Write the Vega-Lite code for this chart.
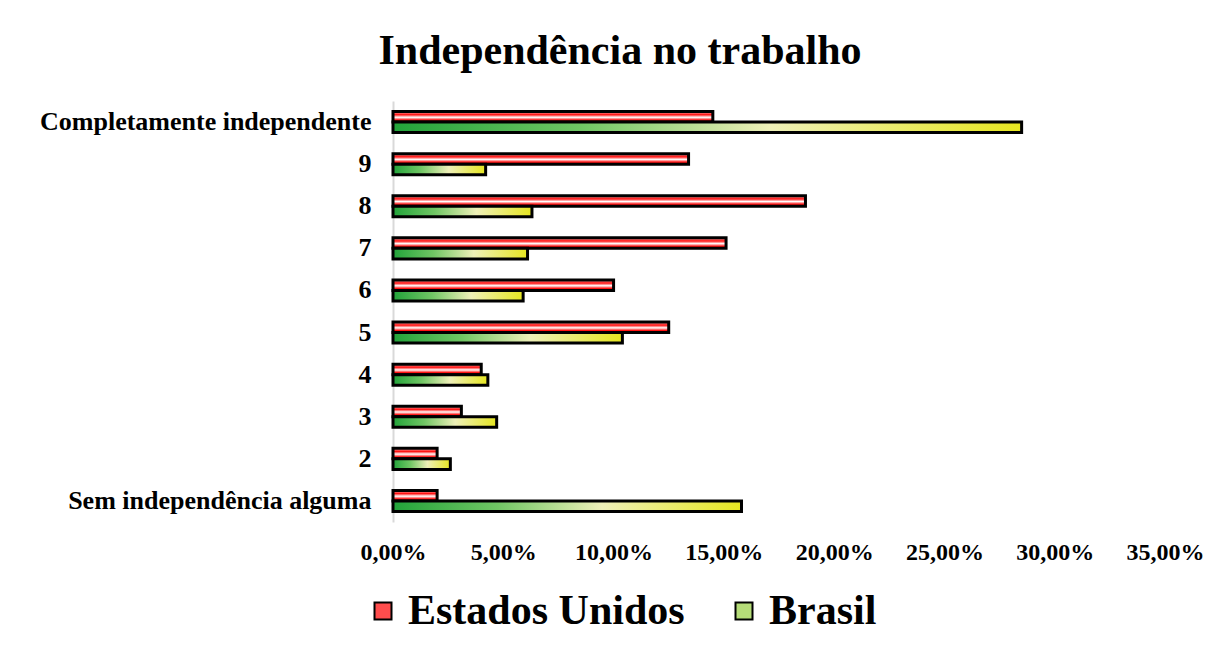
{
  "$schema": "https://vega.github.io/schema/vega-lite/v6.json",
  "autosize": {"type": "none"},
  "width": 772,
  "height": 421,
  "padding": {"left": 393, "top": 101, "right": 67, "bottom": 129},
  "background": "white",
  "title": {
    "text": "Independência no trabalho",
    "font": "Liberation Serif",
    "fontSize": 42,
    "fontWeight": "bold",
    "color": "black",
    "anchor": "middle",
    "frame": "group",
    "dx": -159,
    "baseline": "alphabetic",
    "offset": -5
  },
  "data": {
    "values": [
      {"categoria": "Completamente independente", "pais": "Estados Unidos", "valor": 0.145},
      {"categoria": "Completamente independente", "pais": "Brasil", "valor": 0.285},
      {"categoria": "9", "pais": "Estados Unidos", "valor": 0.134},
      {"categoria": "9", "pais": "Brasil", "valor": 0.042},
      {"categoria": "8", "pais": "Estados Unidos", "valor": 0.187},
      {"categoria": "8", "pais": "Brasil", "valor": 0.063},
      {"categoria": "7", "pais": "Estados Unidos", "valor": 0.151},
      {"categoria": "7", "pais": "Brasil", "valor": 0.061},
      {"categoria": "6", "pais": "Estados Unidos", "valor": 0.100},
      {"categoria": "6", "pais": "Brasil", "valor": 0.059},
      {"categoria": "5", "pais": "Estados Unidos", "valor": 0.125},
      {"categoria": "5", "pais": "Brasil", "valor": 0.104},
      {"categoria": "4", "pais": "Estados Unidos", "valor": 0.040},
      {"categoria": "4", "pais": "Brasil", "valor": 0.043},
      {"categoria": "3", "pais": "Estados Unidos", "valor": 0.031},
      {"categoria": "3", "pais": "Brasil", "valor": 0.047},
      {"categoria": "2", "pais": "Estados Unidos", "valor": 0.020},
      {"categoria": "2", "pais": "Brasil", "valor": 0.026},
      {"categoria": "Sem independência alguma", "pais": "Estados Unidos", "valor": 0.020},
      {"categoria": "Sem independência alguma", "pais": "Brasil", "valor": 0.158}
    ]
  },
  "encoding": {
    "y": {
      "field": "categoria",
      "type": "nominal",
      "sort": ["Completamente independente", "9", "8", "7", "6", "5", "4", "3", "2", "Sem independência alguma"],
      "scale": {"paddingInner": 0.5, "paddingOuter": 0.25},
      "axis": {
        "title": null,
        "ticks": false,
        "domain": true,
        "domainColor": "#d9d9d9",
        "domainWidth": 2,
        "labelFont": "Liberation Serif",
        "labelFontSize": 26,
        "labelFontWeight": "bold",
        "labelColor": "black",
        "labelPadding": 22,
        "labelLimit": 400
      }
    },
    "yOffset": {
      "field": "pais",
      "type": "nominal",
      "sort": ["Estados Unidos", "Brasil"],
      "scale": {"paddingInner": 0, "paddingOuter": 0}
    },
    "x": {
      "field": "valor",
      "type": "quantitative",
      "scale": {"domain": [0, 0.35], "nice": false},
      "axis": {
        "title": null,
        "grid": false,
        "ticks": false,
        "domain": false,
        "values": [0, 0.05, 0.1, 0.15, 0.2, 0.25, 0.3, 0.35],
        "labelExpr": "replace(format(datum.value, '.2%'), '.', ',')",
        "labelFont": "Liberation Serif",
        "labelFontSize": 24,
        "labelFontWeight": "bold",
        "labelColor": "black",
        "labelPadding": 18,
        "labelFlush": false
      }
    }
  },
  "layer": [
    {
      "mark": {"type": "bar", "opacity": 0, "stroke": "black", "strokeWidth": 2},
      "encoding": {
        "color": {
          "field": "pais",
          "type": "nominal",
          "scale": {
            "domain": ["Estados Unidos", "Brasil"],
            "range": ["#ff4d4d", "#b5dc78"]
          },
          "legend": {
            "title": null,
            "orient": "none",
            "direction": "horizontal",
            "legendX": -31,
            "legendY": 489,
            "symbolType": "square",
            "symbolSize": 289,
            "symbolOpacity": 1,
            "symbolStrokeColor": "black",
            "symbolStrokeWidth": 2,
            "labelFont": "Liberation Serif",
            "labelFontSize": 42,
            "labelFontWeight": "bold",
            "labelColor": "black",
            "labelOffset": 4,
            "columnPadding": 38,
            "labelLimit": 400
          }
        }
      }
    },
    {
      "mark": {"type": "bar", "stroke": "black", "strokeWidth": 3, "fillOpacity": 1},
      "encoding": {
        "fill": {
          "condition": {
            "test": "datum.pais === 'Brasil'",
            "value": {"gradient": "linear", "x1": 0, "y1": 0, "x2": 1, "y2": 0, "stops": [
              {"offset": 0, "color": "#22a33a"},
              {"offset": 0.3, "color": "#70c664"},
              {"offset": 0.6, "color": "#eef0b8"},
              {"offset": 1, "color": "#e6e620"}
            ]}
          },
          "value": {"gradient": "linear", "x1": 0, "y1": 0, "x2": 0, "y2": 1, "stops": [
            {"offset": 0, "color": "#ffc0c0"},
            {"offset": 0.3, "color": "#ff1010"},
            {"offset": 0.55, "color": "#ffffff"},
            {"offset": 0.8, "color": "#ff1010"},
            {"offset": 1, "color": "#ff2a2a"}
          ]}
        }
      }
    }
  ],
  "config": {"view": {"stroke": null}}
}
